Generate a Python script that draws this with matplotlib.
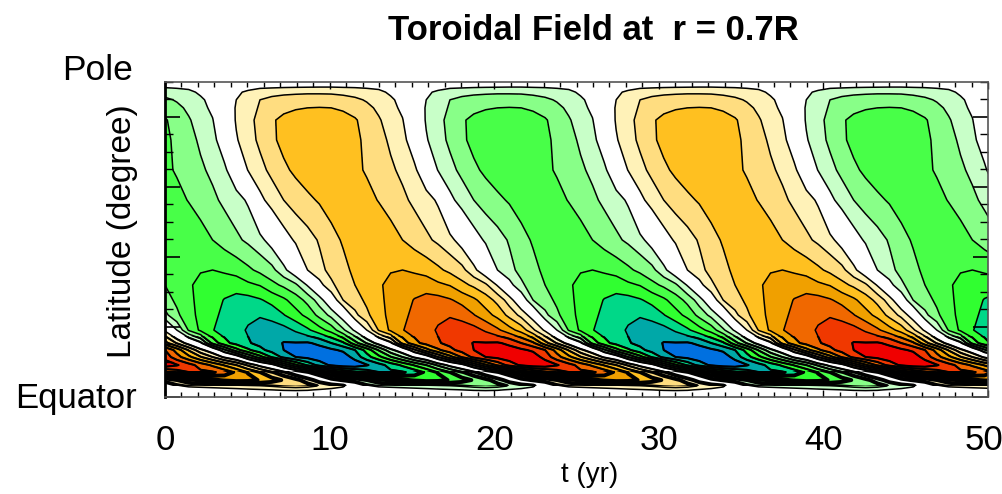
import numpy as np
import matplotlib
matplotlib.use("Agg")
import matplotlib.pyplot as plt
from matplotlib.colors import ListedColormap, BoundaryNorm
from matplotlib.patches import Rectangle
from matplotlib.ticker import MultipleLocator

plt.rcParams['font.family'] = ['Liberation Sans', 'DejaVu Sans']

# values, t in yr
t_yr = [0.00, 0.72, 1.44, 2.16, 2.89, 3.61, 4.33, 5.05, 5.77, 6.49, 7.21, 7.94, 8.66, 9.38, 10.10, 10.82,
        11.54, 12.26, 12.99, 13.71, 14.43, 15.15, 15.87, 16.59, 17.31, 18.04, 18.76, 19.48, 20.20, 20.92, 21.64, 22.36,
        23.09, 23.81, 24.53, 25.25, 25.97, 26.69, 27.41, 28.14, 28.86, 29.58, 30.30, 31.02, 31.74, 32.46, 33.18, 33.91,
        34.63, 35.35, 36.07, 36.79, 37.51, 38.23, 38.96, 39.68, 40.40, 41.12, 41.84, 42.56, 43.28, 44.01,
        44.73, 45.45, 46.17, 46.89, 47.61, 48.33, 49.05, 49.78, 50.50]

latitude = [0.0, 1.0, 1.9, 3.0, 4.7, 7.0, 9.0, 11.3, 13.3, 15.3, 19.0, 23.3, 27.6,
            31.9, 36.2, 44.8, 56.2, 64.8, 73.4, 79.1, 82.6, 84.9, 87.1, 88.6, 90.0]

x_ticks = [0, 10, 20, 30, 40, 50]

# one row per latitude, bottom to top
field = [
    [0]*71,
    [0,.05,.1,.15,.2,.25,.3,.35,.4,.45,.5,.5,.45,.4,.3,.2,
     0,-.05,-.1,-.15,-.2,-.25,-.3,-.35,-.4,-.45,-.5,-.5,-.45,-.4,-.3,-.2,
     0,.05,.1,.15,.2,.25,.3,.35,.4,.45,.5,.5,.45,.4,.3,.2,
     0,-.05,-.1,-.15,-.2,-.25,-.3,-.35,-.4,-.45,-.5,-.5,-.45,-.4,-.3,-.2,
     0,.05,.1,.15,.2,.25,.3],
    [0,.1,.3,.4,.5,.6,.7,.8,.9,1.0,1.1,1.15,1.1,.9,.7,.4,
     0,-.1,-.3,-.4,-.5,-.6,-.7,-.8,-.9,-1.0,-1.1,-1.15,-1.1,-.9,-.7,-.4,
     0,.1,.3,.4,.5,.6,.7,.8,.9,1.0,1.1,1.15,1.1,.9,.7,.4,
     0,-.1,-.3,-.4,-.5,-.6,-.7,-.8,-.9,-1.0,-1.1,-1.15,-1.1,-.9,-.7,-.4,
     0,.1,.3,.4,.5,.6,.7],
    [.3,.8,1.2,1.3,1.4,1.5,1.6,1.75,1.9,2.1,2.4,2.6,2.4,1.9,1.6,1.2,
     -.3,-.8,-1.2,-1.3,-1.4,-1.5,-1.6,-1.75,-1.9,-2.1,-2.4,-2.6,-2.4,-1.9,-1.6,-1.2,
     .3,.8,1.2,1.3,1.4,1.5,1.6,1.75,1.9,2.1,2.4,2.6,2.4,1.9,1.6,1.2,
     -.3,-.8,-1.2,-1.3,-1.4,-1.5,-1.6,-1.75,-1.9,-2.1,-2.4,-2.6,-2.4,-1.9,-1.6,-1.2,
     .3,.8,1.2,1.3,1.4,1.5,1.6],
    [1.3,2,2.7,3.2,3.7,4.2,4.5,4.4,3.9,3.4,2.9,2.3,1.5,.5,-.6,-1.1,
     -1.3,-2,-2.7,-3.2,-3.7,-4.2,-4.5,-4.4,-3.9,-3.4,-2.9,-2.3,-1.5,-.5,.6,1.1,
     1.3,2,2.7,3.2,3.7,4.2,4.5,4.4,3.9,3.4,2.9,2.3,1.5,.5,-.6,-1.1,
     -1.3,-2,-2.7,-3.2,-3.7,-4.2,-4.5,-4.4,-3.9,-3.4,-2.9,-2.3,-1.5,-.5,.6,1.1,
     1.3,2,2.7,3.2,3.7,4.2,4.5],
    [4.8,5.5,6.0,6.2,6.1,5.6,4.8,3.9,3.0,2.1,1.2,.1,-.9,-2,-3.0,-4.0,
     -4.8,-5.5,-6.0,-6.2,-6.1,-5.6,-4.8,-3.9,-3.0,-2.1,-1.2,-.1,.9,2,3.0,4.0,
     4.8,5.5,6.0,6.2,6.1,5.6,4.8,3.9,3.0,2.1,1.2,.1,-.9,-2,-3.0,-4.0,
     -4.8,-5.5,-6.0,-6.2,-6.1,-5.6,-4.8,-3.9,-3.0,-2.1,-1.2,-.1,.9,2,3.0,4.0,
     4.8,5.5,6.0,6.2,6.1,5.6,4.8],
    [7.7,7.1,6.4,5.6,4.8,3.9,3.0,1.8,.6,-.4,-2.2,-3.8,-5.2,-6.4,-7.2,-7.7,
     -7.7,-7.1,-6.4,-5.6,-4.8,-3.9,-3.0,-1.8,-.6,.4,2.2,3.8,5.2,6.4,7.2,7.7,
     7.7,7.1,6.4,5.6,4.8,3.9,3.0,1.8,.6,-.4,-2.2,-3.8,-5.2,-6.4,-7.2,-7.7,
     -7.7,-7.1,-6.4,-5.6,-4.8,-3.9,-3.0,-1.8,-.6,.4,2.2,3.8,5.2,6.4,7.2,7.7,
     7.7,7.1,6.4,5.6,4.8,3.9,3.0],
    [6.6,5.4,4.3,3.1,2.0,.8,-.1,-2.0,-3.6,-5.1,-6.3,-7.0,-7.3,-7.6,-7.8,-7.6,
     -6.6,-5.4,-4.3,-3.1,-2.0,-.8,.1,2.0,3.6,5.1,6.3,7.0,7.3,7.6,7.8,7.6,
     6.6,5.4,4.3,3.1,2.0,.8,-.1,-2.0,-3.6,-5.1,-6.3,-7.0,-7.3,-7.6,-7.8,-7.6,
     -6.6,-5.4,-4.3,-3.1,-2.0,-.8,.1,2.0,3.6,5.1,6.3,7.0,7.3,7.6,7.8,7.6,
     6.6,5.4,4.3,3.1,2.0,.8,-.1],
    [6.0,4.6,2.9,1.3,.2,-1.8,-3.6,-4.8,-5.7,-6.4,-7.0,-7.25,-7.35,-7.35,-7.2,-6.8,
     -6.0,-4.6,-2.9,-1.3,-.2,1.8,3.6,4.8,5.7,6.4,7.0,7.25,7.35,7.35,7.2,6.8,
     6.0,4.6,2.9,1.3,.2,-1.8,-3.6,-4.8,-5.7,-6.4,-7.0,-7.25,-7.35,-7.35,-7.2,-6.8,
     -6.0,-4.6,-2.9,-1.3,-.2,1.8,3.6,4.8,5.7,6.4,7.0,7.25,7.35,7.35,7.2,6.8,
     6.0,4.6,2.9,1.3,.2,-1.8,-3.6],
    [3.4,1.9,.5,-.75,-3.3,-4.7,-5.35,-5.9,-6.3,-6.65,-7.05,-7.05,-7.1,-6.8,-6.0,-5.2,
     -3.4,-1.9,-.5,.75,3.3,4.7,5.35,5.9,6.3,6.65,7.05,7.05,7.1,6.8,6.0,5.2,
     3.4,1.9,.5,-.75,-3.3,-4.7,-5.35,-5.9,-6.3,-6.65,-7.05,-7.05,-7.1,-6.8,-6.0,-5.2,
     -3.4,-1.9,-.5,.75,3.3,4.7,5.35,5.9,6.3,6.65,7.05,7.05,7.1,6.8,6.0,5.2,
     3.4,1.9,.5,-.75,-3.3,-4.7,-5.35],
    [.8,-1.0,-3.1,-4.2,-4.95,-5.4,-5.7,-6.1,-6.5,-6.6,-6.4,-5.85,-5.2,-4.4,-3.6,-2.2,
     -.8,1.0,3.1,4.2,4.95,5.4,5.7,6.1,6.5,6.6,6.4,5.85,5.2,4.4,3.6,2.2,
     .8,-1.0,-3.1,-4.2,-4.95,-5.4,-5.7,-6.1,-6.5,-6.6,-6.4,-5.85,-5.2,-4.4,-3.6,-2.2,
     -.8,1.0,3.1,4.2,4.95,5.4,5.7,6.1,6.5,6.6,6.4,5.85,5.2,4.4,3.6,2.2,
     .8,-1.0,-3.1,-4.2,-4.95,-5.4,-5.7],
    [-1.7,-2.8,-3.6,-4.3,-4.8,-5.2,-5.6,-5.8,-5.9,-5.6,-5.05,-4.4,-3.7,-2.7,-1.7,-.4,
     1.7,2.8,3.6,4.3,4.8,5.2,5.6,5.8,5.9,5.6,5.05,4.4,3.7,2.7,1.7,.4,
     -1.7,-2.8,-3.6,-4.3,-4.8,-5.2,-5.6,-5.8,-5.9,-5.6,-5.05,-4.4,-3.7,-2.7,-1.7,-.4,
     1.7,2.8,3.6,4.3,4.8,5.2,5.6,5.8,5.9,5.6,5.05,4.4,3.7,2.7,1.7,.4,
     -1.7,-2.8,-3.6,-4.3,-4.8,-5.2,-5.6],
    [-2.6,-3.2,-3.8,-4.25,-4.6,-5.05,-5.3,-5.35,-5.1,-4.7,-4.2,-3.5,-2.7,-1.5,.1,2.0,
     2.6,3.2,3.8,4.25,4.6,5.05,5.3,5.35,5.1,4.7,4.2,3.5,2.7,1.5,-.1,-2.0,
     -2.6,-3.2,-3.8,-4.25,-4.6,-5.05,-5.3,-5.35,-5.1,-4.7,-4.2,-3.5,-2.7,-1.5,.1,2.0,
     2.6,3.2,3.8,4.25,4.6,5.05,5.3,5.35,5.1,4.7,4.2,3.5,2.7,1.5,-.1,-2.0,
     -2.6,-3.2,-3.8,-4.25,-4.6,-5.05,-5.3],
    [-3.0,-3.45,-3.9,-4.2,-4.4,-4.55,-4.6,-4.2,-3.95,-3.3,-2.8,-2.2,-.9,.6,1.8,2.5,
     3.0,3.45,3.9,4.2,4.4,4.55,4.6,4.2,3.95,3.3,2.8,2.2,.9,-.6,-1.8,-2.5,
     -3.0,-3.45,-3.9,-4.2,-4.4,-4.55,-4.6,-4.2,-3.95,-3.3,-2.8,-2.2,-.9,.6,1.8,2.5,
     3.0,3.45,3.9,4.2,4.4,4.55,4.6,4.2,3.95,3.3,2.8,2.2,.9,-.6,-1.8,-2.5,
     -3.0,-3.45,-3.9,-4.2,-4.4,-4.55,-4.6],
    [-3.2,-3.45,-3.7,-3.95,-4.0,-3.85,-3.6,-3.2,-2.75,-2.3,-1.3,-.1,1.0,1.7,2.3,2.75,
     3.2,3.45,3.7,3.95,4.0,3.85,3.6,3.2,2.75,2.3,1.3,.1,-1.0,-1.7,-2.3,-2.75,
     -3.2,-3.45,-3.7,-3.95,-4.0,-3.85,-3.6,-3.2,-2.75,-2.3,-1.3,-.1,1.0,1.7,2.3,2.75,
     3.2,3.45,3.7,3.95,4.0,3.85,3.6,3.2,2.75,2.3,1.3,.1,-1.0,-1.7,-2.3,-2.75,
     -3.2,-3.45,-3.7,-3.95,-4.0,-3.85,-3.6],
    [-3.4,-3.65,-3.8,-3.4,-3.0,-2.6,-2.2,-1.8,-1.3,-.5,.5,1.15,1.6,2.1,2.7,3.1,
     3.4,3.65,3.8,3.4,3.0,2.6,2.2,1.8,1.3,.5,-.5,-1.15,-1.6,-2.1,-2.7,-3.1,
     -3.4,-3.65,-3.8,-3.4,-3.0,-2.6,-2.2,-1.8,-1.3,-.5,.5,1.15,1.6,2.1,2.7,3.1,
     3.4,3.65,3.8,3.4,3.0,2.6,2.2,1.8,1.3,.5,-.5,-1.15,-1.6,-2.1,-2.7,-3.1,
     -3.4,-3.65,-3.8,-3.4,-3.0,-2.6,-2.2],
    [-3.6,-3.3,-2.95,-2.6,-2.2,-1.8,-1.4,-.85,.7,1.45,2.0,2.45,2.8,3.1,3.4,3.55,
     3.6,3.3,2.95,2.6,2.2,1.8,1.4,.85,-.7,-1.45,-2.0,-2.45,-2.8,-3.1,-3.4,-3.55,
     -3.6,-3.3,-2.95,-2.6,-2.2,-1.8,-1.4,-.85,.7,1.45,2.0,2.45,2.8,3.1,3.4,3.55,
     3.6,3.3,2.95,2.6,2.2,1.8,1.4,.85,-.7,-1.45,-2.0,-2.45,-2.8,-3.1,-3.4,-3.55,
     -3.6,-3.3,-2.95,-2.6,-2.2,-1.8,-1.4],
    [-3.2,-2.9,-2.5,-2.15,-1.8,-1.2,-.2,1.05,1.7,2.25,2.8,3.2,3.5,3.6,3.7,3.55,
     3.2,2.9,2.5,2.15,1.8,1.2,.2,-1.05,-1.7,-2.25,-2.8,-3.2,-3.5,-3.6,-3.7,-3.55,
     -3.2,-2.9,-2.5,-2.15,-1.8,-1.2,-.2,1.05,1.7,2.25,2.8,3.2,3.5,3.6,3.7,3.55,
     3.2,2.9,2.5,2.15,1.8,1.2,.2,-1.05,-1.7,-2.25,-2.8,-3.2,-3.5,-3.6,-3.7,-3.55,
     -3.2,-2.9,-2.5,-2.15,-1.8,-1.2,-.2],
    [-3.2,-2.8,-2.3,-1.85,-1.3,-.4,.9,1.6,2.2,2.8,3.3,3.55,3.7,3.72,3.7,3.5,
     3.2,2.8,2.3,1.85,1.3,.4,-.9,-1.6,-2.2,-2.8,-3.3,-3.55,-3.7,-3.72,-3.7,-3.5,
     -3.2,-2.8,-2.3,-1.85,-1.3,-.4,.9,1.6,2.2,2.8,3.3,3.55,3.7,3.72,3.7,3.5,
     3.2,2.8,2.3,1.85,1.3,.4,-.9,-1.6,-2.2,-2.8,-3.3,-3.55,-3.7,-3.72,-3.7,-3.5,
     -3.2,-2.8,-2.3,-1.85,-1.3,-.4,.9],
    [-3.1,-2.6,-2.1,-1.55,-1.05,0,1.1,1.7,2.3,2.85,3.3,3.55,3.7,3.72,3.6,3.4,
     3.1,2.6,2.1,1.55,1.05,0,-1.1,-1.7,-2.3,-2.85,-3.3,-3.55,-3.7,-3.72,-3.6,-3.4,
     -3.1,-2.6,-2.1,-1.55,-1.05,0,1.1,1.7,2.3,2.85,3.3,3.55,3.7,3.72,3.6,3.4,
     3.1,2.6,2.1,1.55,1.05,0,-1.1,-1.7,-2.3,-2.85,-3.3,-3.55,-3.7,-3.72,-3.6,-3.4,
     -3.1,-2.6,-2.1,-1.55,-1.05,0,1.1],
    [-2.6,-2.25,-1.8,-1.3,-.8,.15,1.1,1.6,2.1,2.45,2.7,2.9,3.0,3.02,3.0,2.85,
     2.6,2.25,1.8,1.3,.8,-.15,-1.1,-1.6,-2.1,-2.45,-2.7,-2.9,-3.0,-3.02,-3.0,-2.85,
     -2.6,-2.25,-1.8,-1.3,-.8,.15,1.1,1.6,2.1,2.45,2.7,2.9,3.0,3.02,3.0,2.85,
     2.6,2.25,1.8,1.3,.8,-.15,-1.1,-1.6,-2.1,-2.45,-2.7,-2.9,-3.0,-3.02,-3.0,-2.85,
     -2.6,-2.25,-1.8,-1.3,-.8,.15,1.1],
    [-2.2,-1.9,-1.5,-1.15,-.7,.15,1.0,1.5,2.0,2.3,2.5,2.65,2.7,2.7,2.6,2.45,
     2.2,1.9,1.5,1.15,.7,-.15,-1.0,-1.5,-2.0,-2.3,-2.5,-2.65,-2.7,-2.7,-2.6,-2.45,
     -2.2,-1.9,-1.5,-1.15,-.7,.15,1.0,1.5,2.0,2.3,2.5,2.65,2.7,2.7,2.6,2.45,
     2.2,1.9,1.5,1.15,.7,-.15,-1.0,-1.5,-2.0,-2.3,-2.5,-2.65,-2.7,-2.7,-2.6,-2.45,
     -2.2,-1.9,-1.5,-1.15,-.7,.15,1.0],
    [-1.6,-1.4,-1.2,-.85,-.4,.1,.8,1.2,1.5,1.6,1.7,1.75,1.8,1.8,1.8,1.7,
     1.6,1.4,1.2,.85,.4,-.1,-.8,-1.2,-1.5,-1.6,-1.7,-1.75,-1.8,-1.8,-1.8,-1.7,
     -1.6,-1.4,-1.2,-.85,-.4,.1,.8,1.2,1.5,1.6,1.7,1.75,1.8,1.8,1.8,1.7,
     1.6,1.4,1.2,.85,.4,-.1,-.8,-1.2,-1.5,-1.6,-1.7,-1.75,-1.8,-1.8,-1.8,-1.7,
     -1.6,-1.4,-1.2,-.85,-.4,.1,.8],
    [-.9,-.85,-.8,-.55,-.25,.05,.3,.6,.8,.85,.9,.93,.95,.97,.97,.93,
     .9,.85,.8,.55,.25,-.05,-.3,-.6,-.8,-.85,-.9,-.93,-.95,-.97,-.97,-.93,
     -.9,-.85,-.8,-.55,-.25,.05,.3,.6,.8,.85,.9,.93,.95,.97,.97,.93,
     .9,.85,.8,.55,.25,-.05,-.3,-.6,-.8,-.85,-.9,-.93,-.95,-.97,-.97,-.93,
     -.9,-.85,-.8,-.55,-.25,.05,.3],
    [0]*71,
]

levels = [-9, -7, -6, -5, -4, -3, -2, -1, 1, 2, 3, 4, 5, 6, 7, 9]
colors = ['#0070E0', '#00A8A8', '#00D888', '#30FF30', '#48FF48', '#88FF88', '#C8FFC8', '#FFFFFF',
          '#FFF2B8', '#FFDD80', '#FFC020', '#F0A000', '#F06800', '#F03800', '#F00000']

fig = plt.figure(figsize=(10.02, 4.94), dpi=100)
ax = fig.add_axes([165/1002, 1-396.5/494, 823/1002, 314.5/494])

cmap = ListedColormap(colors)
norm = BoundaryNorm(levels, cmap.N)
ax.contourf(t_yr, latitude, field, levels=levels, cmap=cmap, norm=norm)
ax.contour(t_yr, latitude, field, levels=levels[1:-1], colors='black', linewidths=1.1, linestyles='solid')

# heavier lines where the reference closes up near the equator
hatch = ax.contour(t_yr, latitude, field, levels=levels[1:-1], colors='black', linewidths=1.5, linestyles='solid')
hatch.set_clip_path(Rectangle((0, 7.2), 50, 10.0, transform=ax.transData))
band = ax.contour(t_yr, latitude, field, levels=levels[1:-1], colors='black', linewidths=2.8, linestyles='solid')
band.set_clip_path(Rectangle((0, 3.0), 50, 4.2, transform=ax.transData))

ax.set_xlim(0, 50)
ax.set_ylim(0, 90)

ax.xaxis.set_major_locator(MultipleLocator(10))
ax.xaxis.set_minor_locator(MultipleLocator(1))
ax.yaxis.set_major_locator(MultipleLocator(20))
ax.yaxis.set_minor_locator(MultipleLocator(5))
ax.tick_params(axis='x', which='major', direction='in', top=True, length=5, width=1, labelbottom=False)
ax.tick_params(axis='x', which='minor', direction='in', top=True, length=3.5, width=1)
ax.tick_params(axis='y', which='major', direction='in', right=True, length=11, width=1.2, labelleft=False)
ax.tick_params(axis='y', which='minor', direction='in', right=True, length=6, width=1)
for side in ['top', 'bottom', 'right']:
    ax.spines[side].set_linewidth(1.2)
    ax.spines[side].set_color('#555555')
ax.spines['left'].set_linewidth(2)

for val in x_ticks:
    # the last label sits a little left so that it stays inside the picture
    dx = -3 if val == 50 else 0
    ax.annotate(str(val), (val, 0), xytext=(dx, -32), textcoords='offset points',
                fontsize=25, ha='center', va='center')

fig.text(593/1002, 1-30/494, 'Toroidal Field at  r = 0.7R', fontsize=25, fontweight='bold', ha='center', va='center')
fig.text(98/1002, 1-71/494, 'Pole', fontsize=25.5, ha='center', va='center')
fig.text(76/1002, 1-398/494, 'Equator', fontsize=25, ha='center', va='center')
fig.text(122/1002, 1-231/494, 'Latitude (degree)', fontsize=24, rotation=90, ha='center', va='center')
fig.text(590/1002, 1-475/494, 't (yr)', fontsize=20, ha='center', va='center')

plt.savefig('out.png', dpi=100)
